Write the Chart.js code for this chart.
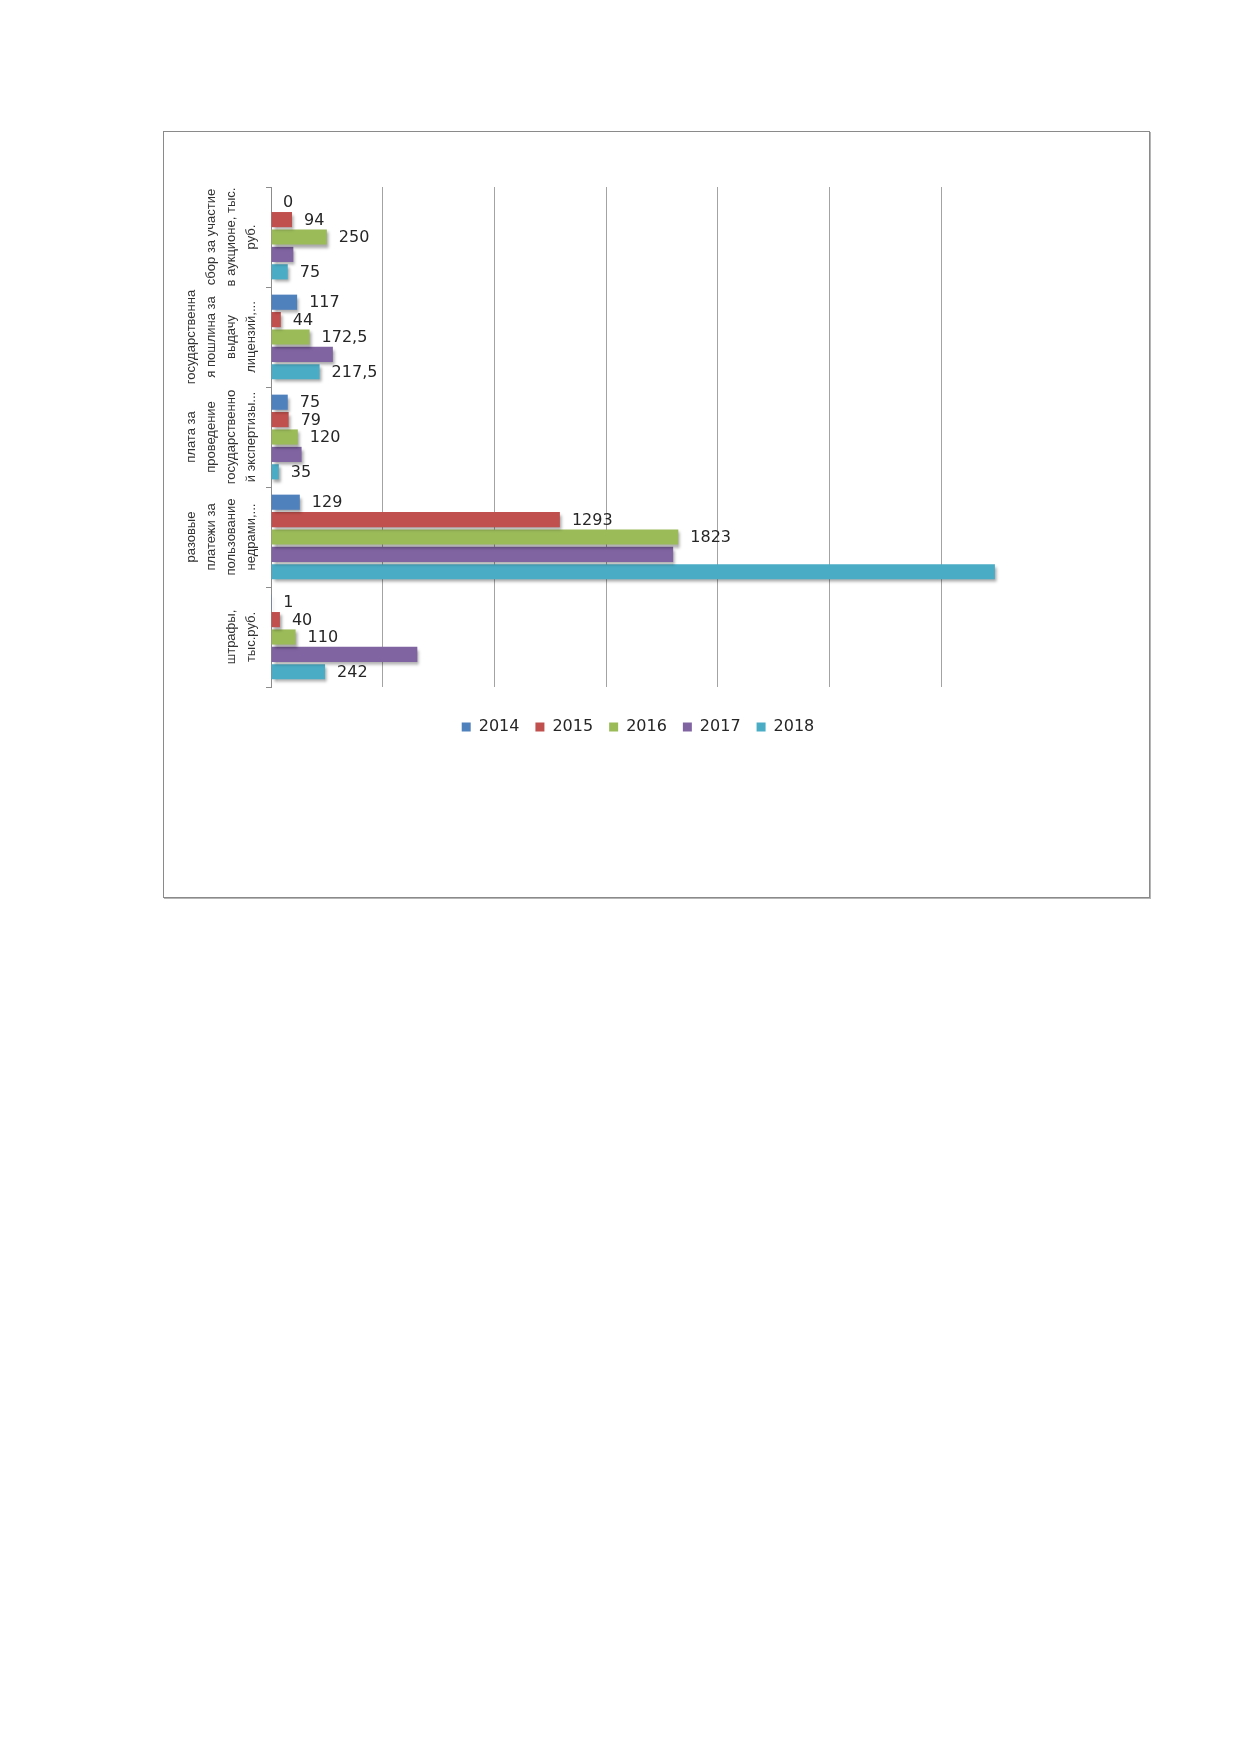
<!DOCTYPE html>
<html>
<head>
<meta charset="utf-8">
<script src="https://cdn.jsdelivr.net/npm/chart.js@4"></script>
<style>
  body { margin: 0; background: #fff; width: 1239px; height: 1752px; position: relative; }
  #frame {
    position: absolute; left: 163px; top: 131px;
    width: 985px; height: 765px;
    border: 1px solid #8a8a8a;
    box-shadow: 1px 1px 0 #b5b5b5;
  }
  #chart { position: absolute; left: 0; top: 0; }
</style>
</head>
<body>
<div id="frame"><canvas id="chart" width="985" height="765"></canvas></div>
<script>
// categories, top to bottom (already wrapped like in the source)
const categories = [
    ['сбор за участие', 'в аукционе, тыс.', 'руб.'],
    ['государственна', 'я пошлина за', 'выдачу', 'лицензий,...'],
    ['плата за', 'проведение', 'государственно', 'й экспертизы...'],
    ['разовые', 'платежи за', 'пользование', 'недрами,...'],
    ['штрафы,', 'тыс.руб.']
];
const years = ['2014', '2015', '2016', '2017', '2018'];

const v2014 = [0, 117, 75, 129, 1];
const v2015 = [94, 44, 79, 1293, 40];
const v2016 = [250, 172.5, 120, 1823, 110];
const v2017 = [100, 277, 137, 1800, 655];
const v2018 = [75, 217.5, 35, 3240, 242];

// which values carry a data label (1 = shown)
const shown2014 = [1, 1, 1, 1, 1];
const shown2015 = [1, 1, 1, 1, 1];
const shown2016 = [1, 1, 1, 1, 1];
const shown2017 = [0, 0, 0, 0, 0];
const shown2018 = [1, 1, 1, 0, 1];

const xTicks = [0, 500, 1000, 1500, 2000, 2500, 3000, 3500];

const colors = ['#4F81BD', '#C0504D', '#9BBB59', '#8064A2', '#4BACC6'];
const series = [v2014, v2015, v2016, v2017, v2018];
const shown = [shown2014, shown2015, shown2016, shown2017, shown2018];

// bar shadows + value labels + rotated category labels
const barExtras = {
    id: 'barExtras',
    beforeDatasetsDraw(chart) {
        const ctx = chart.ctx;
        ctx.save();
        ctx.shadowColor = 'rgba(0,0,0,0.35)';
        ctx.shadowOffsetX = 2;
        ctx.shadowOffsetY = 3;
        ctx.shadowBlur = 3;
    },
    afterDatasetsDraw(chart) {
        const ctx = chart.ctx;
        ctx.restore();
        ctx.save();
        ctx.font = '16px "DejaVu Sans"';
        ctx.fillStyle = '#262626';
        ctx.textAlign = 'left';
        ctx.textBaseline = 'middle';
        chart.data.datasets.forEach((ds, di) => {
            const meta = chart.getDatasetMeta(di);
            meta.data.forEach((bar, i) => {
                if (!shown[di][i]) return;
                const txt = String(ds.data[i]).replace('.', ',');
                ctx.fillText(txt, bar.x + 12, bar.y + 1);
            });
        });
        ctx.restore();
    },
    afterDraw(chart) {
        const ctx = chart.ctx;
        const y = chart.scales.y;
        ctx.save();
        ctx.font = '13px "Liberation Sans"';
        ctx.fillStyle = '#333';
        ctx.textAlign = 'center';
        ctx.textBaseline = 'middle';
        chart.data.labels.forEach((lines, i) => {
            const cy = y.getPixelForValue(i);
            const n = lines.length;
            lines.forEach((line, li) => {
                const cx = y.right - 20 - (n - 1 - li) * 20;
                ctx.save();
                ctx.translate(cx, cy);
                ctx.rotate(-Math.PI / 2);
                ctx.fillText(line, 0, 0);
                ctx.restore();
            });
        });
        ctx.restore();
    }
};

new Chart(document.getElementById('chart'), {
    type: 'bar',
    data: {
        labels: categories,
        datasets: years.map((yr, i) => ({
            label: yr,
            data: series[i],
            backgroundColor: colors[i],
            categoryPercentage: 0.87,
            barPercentage: 0.87
        }))
    },
    options: {
        indexAxis: 'y',
        responsive: false,
        animation: false,
        layout: { padding: { top: 55, left: 59, right: 96, bottom: 152 } },
        scales: {
            x: {
                min: 0,
                max: 3500,
                afterBuildTicks: (scale) => { scale.ticks = xTicks.map(v => ({ value: v })); },
                ticks: { display: false },
                grid: {
                    color: (c) => (c.tick && c.tick.value === 3500) ? 'rgba(0,0,0,0)' : '#a3a3a3',
                    drawTicks: false
                },
                border: { display: false },
                afterFit: (scale) => { scale.height = 16; }
            },
            y: {
                ticks: { display: false },
                grid: { drawOnChartArea: false, tickLength: 5, color: '#8c8c8c' },
                border: { color: '#8c8c8c' },
                afterFit: (scale) => { scale.width = 48; }
            }
        },
        plugins: {
            legend: {
                position: 'bottom',
                labels: {
                    boxWidth: 9,
                    boxHeight: 9,
                    padding: 16,
                    color: '#262626',
                    font: { family: 'DejaVu Sans', size: 16 }
                }
            },
            tooltip: { enabled: false }
        }
    },
    plugins: [barExtras]
});
</script>
</body>
</html>
